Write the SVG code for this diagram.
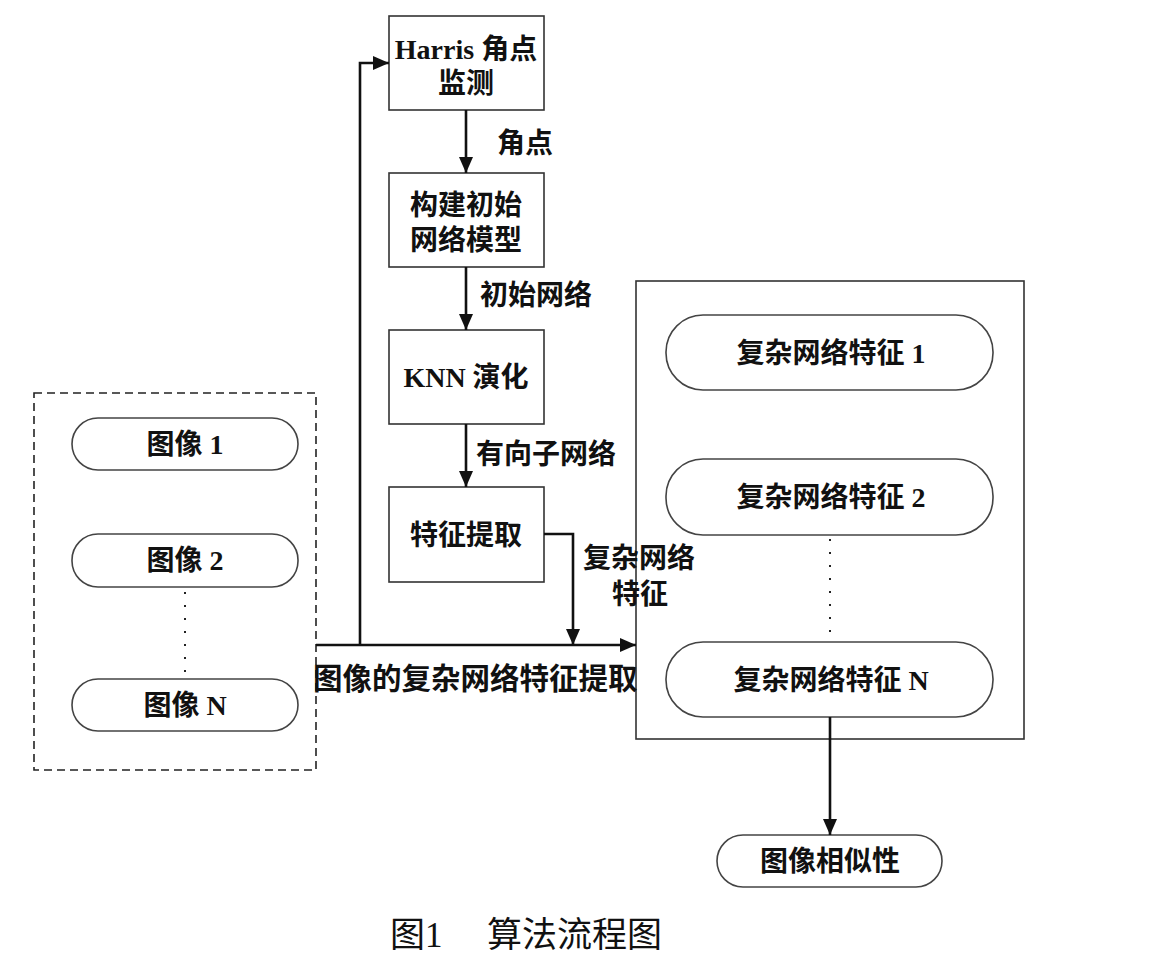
<svg xmlns="http://www.w3.org/2000/svg" width="1157" height="961" viewBox="0 0 1157 961">
<style>
.box{fill:#fff;stroke:#333;stroke-width:1.6}
.pill{fill:#fff;stroke:#444;stroke-width:1.6}
.dash{fill:none;stroke:#222;stroke-width:1.6;stroke-dasharray:8 5}
.t{font-family:"Liberation Serif","Noto Sans CJK SC",serif;font-weight:bold;font-size:28px;fill:#111;dominant-baseline:central}
.c{text-anchor:middle}
.cap{font-family:"Liberation Serif","Noto Sans CJK SC",serif;font-size:35px;fill:#111;dominant-baseline:central}
.ln{fill:none;stroke:#111;stroke-width:2.6}
.dot{fill:none;stroke:#222;stroke-width:2;stroke-dasharray:2 11}
</style>
<defs>
<marker id="ah" markerWidth="16" markerHeight="14" refX="16" refY="7" orient="auto" markerUnits="userSpaceOnUse">
<path d="M0,0 L16,7 L0,14 Z" fill="#111"/>
</marker>
</defs>

<g id="images-group">
<rect class="dash" x="34" y="393" width="282" height="377"/>
</g>
<g id="img1"><rect class="pill" x="72" y="418" width="226" height="52" rx="26"/><text class="t c" x="185" y="444">图像 1</text></g>
<g id="img2"><rect class="pill" x="72" y="534" width="226" height="53" rx="26"/><text class="t c" x="185" y="560">图像 2</text></g>
<g id="imgN"><rect class="pill" x="72" y="679" width="226" height="52" rx="26"/><text class="t c" x="185" y="705">图像 N</text></g>
<line class="dot" x1="185" y1="592" x2="185" y2="676"/>

<g id="harris"><rect class="box" x="389" y="16" width="155" height="94"/><text class="t c" x="466" y="49">Harris 角点</text><text class="t c" x="466" y="83">监测</text></g>
<g id="build"><rect class="box" x="389" y="173" width="155" height="94"/><text class="t c" x="466" y="205">构建初始</text><text class="t c" x="466" y="240">网络模型</text></g>
<g id="knn"><rect class="box" x="389" y="330" width="155" height="94"/><text class="t c" x="466" y="377">KNN 演化</text></g>
<g id="extract"><rect class="box" x="389" y="487" width="155" height="95"/><text class="t c" x="466" y="535">特征提取</text></g>

<g id="features-group"><rect class="box" x="636" y="281" width="388" height="458"/></g>
<g id="feat1"><rect class="pill" x="666" y="315" width="327" height="75" rx="37"/><text class="t c" x="831" y="353">复杂网络特征 1</text></g>
<g id="feat2"><rect class="pill" x="666" y="459" width="327" height="76" rx="37"/><text class="t c" x="831" y="497">复杂网络特征 2</text></g>
<g id="featN"><rect class="pill" x="666" y="642" width="327" height="75" rx="37"/><text class="t c" x="831" y="680">复杂网络特征 N</text></g>
<line class="dot" x1="830" y1="539" x2="830" y2="640"/>

<g id="similarity"><rect class="pill" x="717" y="835" width="225" height="52" rx="26"/><text class="t c" x="830" y="861">图像相似性</text></g>

<g id="connectors">
<path class="ln" d="M466,110 V173" marker-end="url(#ah)"/>
<path class="ln" d="M466,267 V330" marker-end="url(#ah)"/>
<path class="ln" d="M466,424 V487" marker-end="url(#ah)"/>
<path class="ln" d="M316,645 H636" marker-end="url(#ah)"/>
<path class="ln" d="M360,645 V63 H389" marker-end="url(#ah)"/>
<path class="ln" d="M544,534 H573 V645" marker-end="url(#ah)"/>
<path class="ln" d="M830,717 V835" marker-end="url(#ah)"/>
</g>

<g id="labels">
<text class="t" x="497" y="143">角点</text>
<text class="t" x="480" y="295">初始网络</text>
<text class="t" x="476" y="454">有向子网络</text>
<text class="t" x="583" y="558">复杂网络</text>
<text class="t" x="612" y="594">特征</text>
<text class="t" x="313" y="679" style="font-size:29.5px">图像的复杂网络特征提取</text>
<text class="cap" x="390" y="935">图1</text>
<text class="cap" x="487" y="935">算法流程图</text>
</g>
</svg>
